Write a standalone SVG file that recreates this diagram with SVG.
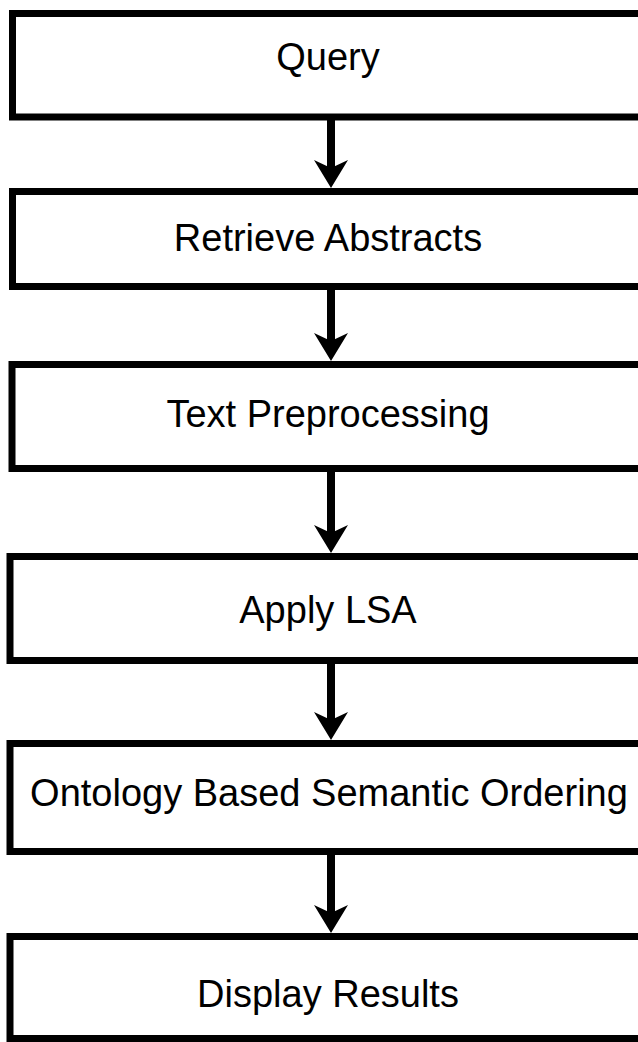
<svg xmlns="http://www.w3.org/2000/svg" width="638" height="1042" viewBox="0 0 638 1042">
<style>
.box{fill:#fff;stroke:#000;stroke-width:7}
.lbl{font-family:"Liberation Sans",Arial,sans-serif;font-size:38px;fill:#000;text-anchor:middle}
.conn{stroke:#000;stroke-width:8;fill:none;marker-end:url(#ah)}
</style>
<defs>
<marker id="ah" viewBox="0 0 28 34" refX="14" refY="17" markerWidth="28" markerHeight="34" markerUnits="userSpaceOnUse" orient="auto">
<path d="M0,0 L28,17 L0,34 L8,17 Z" fill="#000"/>
</marker>
</defs>
<rect width="638" height="1042" fill="#fff"/>
<g id="connectors">
<line class="conn" x1="331" y1="120" x2="331" y2="174"/>
<line class="conn" x1="331" y1="290" x2="331" y2="347"/>
<line class="conn" x1="331" y1="472" x2="331" y2="539"/>
<line class="conn" x1="331" y1="664" x2="331" y2="726"/>
<line class="conn" x1="331" y1="855" x2="331" y2="919"/>
</g>
<g id="n1"><rect class="box" x="12.5" y="13.5" width="640" height="103.5"/><text class="lbl" x="328" y="70">Query</text></g>
<g id="n2"><rect class="box" x="12.5" y="191.5" width="640" height="95"/><text class="lbl" x="328" y="251">Retrieve Abstracts</text></g>
<g id="n3"><rect class="box" x="12" y="364.5" width="640" height="104"/><text class="lbl" x="328" y="427">Text Preprocessing</text></g>
<g id="n4"><rect class="box" x="10" y="556.5" width="640" height="104"/><text class="lbl" x="328" y="623">Apply LSA</text></g>
<g id="n5"><rect class="box" x="10" y="743.5" width="640" height="108"/><text class="lbl" x="329" y="806">Ontology Based Semantic Ordering</text></g>
<g id="n6"><rect class="box" x="10" y="936.5" width="640" height="102"/><text class="lbl" x="328" y="1007">Display Results</text></g>
</svg>
